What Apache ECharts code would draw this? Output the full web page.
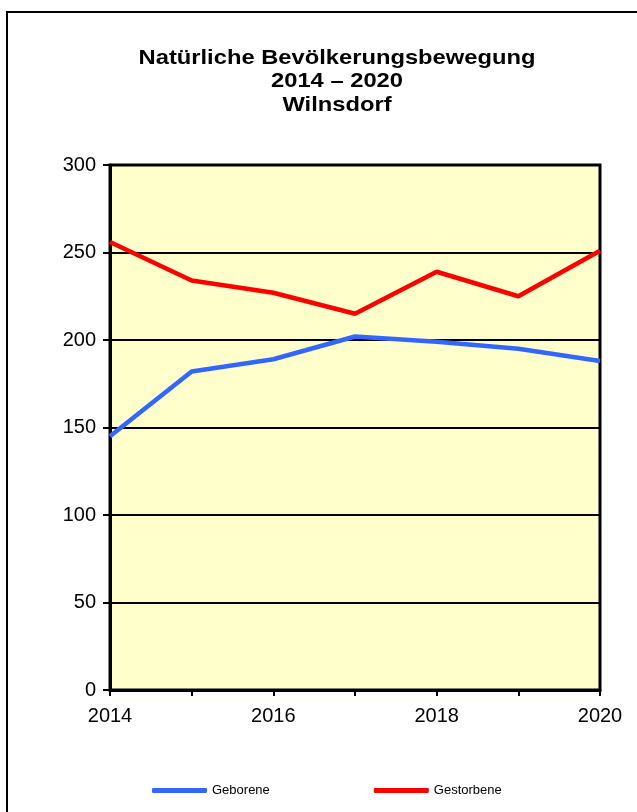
<!DOCTYPE html>
<html>
<head>
<meta charset="utf-8">
<script src="https://cdn.jsdelivr.net/npm/echarts@6/dist/echarts.min.js"></script>
<style>
  html, body { margin: 0; padding: 0; background: #fff; }
  #chart { width: 637px; height: 812px; }
</style>
</head>
<body>
<div id="chart"></div>
<script>
// Jahre (Kategorien)
const years = ["2014", "2015", "2016", "2017", "2018", "2019", "2020"];
// Geborene
const geborene = [145, 182, 189, 202, 199, 195, 188];
// Gestorbene
const gestorbene = [256, 234, 227, 215, 239, 225, 251];
// Titelzeilen
const titleLines = ["Natürliche Bevölkerungsbewegung", "2014 – 2020", "Wilnsdorf"];

const font = "Liberation Sans, Arial, sans-serif";

const chart = echarts.init(document.getElementById("chart"));

chart.setOption({
  animation: false,
  textStyle: { fontFamily: font },
  graphic: [
    // äußerer Rahmen
    {
      type: "rect",
      shape: { x: 7, y: 12, width: 700, height: 900 },
      style: { fill: "none", stroke: "#000", lineWidth: 2 },
      silent: true,
      z: -1,
    },
    // Titel (leicht in die Breite gezogen wie im Original)
    {
      type: "text",
      x: 337,
      y: 46,
      scaleX: 1.13,
      silent: true,
      style: {
        text: titleLines.join("\n"),
        font: "bold 21px " + font,
        fill: "#000",
        align: "center",
        verticalAlign: "top",
        lineHeight: 23.5,
      },
    },
  ],
  grid: {
    left: 110,
    right: 37,
    top: 165,
    bottom: 122,
    show: true,
    backgroundColor: "#FFFFCC",
    borderColor: "#000",
    borderWidth: 3,
  },
  legend: {
    left: 152,
    top: 784,
    padding: 0,
    itemWidth: 55,
    itemHeight: 5,
    itemGap: 104,
    icon: "roundRect",
    textStyle: { fontFamily: font, fontSize: 13, color: "#000" },
    data: ["Geborene", "Gestorbene"],
  },
  xAxis: {
    type: "category",
    data: years,
    boundaryGap: false,
    axisLine: { lineStyle: { color: "#000", width: 3 } },
    axisTick: {
      show: true,
      interval: 0,
      length: 6,
      lineStyle: { color: "#000", width: 2 },
    },
    axisLabel: {
      interval: 1,
      margin: 16,
      fontSize: 20,
      color: "#000",
      fontFamily: font,
    },
    splitLine: { show: false },
  },
  yAxis: {
    type: "value",
    min: 0,
    max: 300,
    interval: 50,
    axisLine: { show: true, lineStyle: { color: "#000", width: 3 } },
    axisTick: {
      show: true,
      length: 7,
      lineStyle: { color: "#000", width: 2 },
    },
    axisLabel: {
      margin: 14,
      fontSize: 20,
      color: "#000",
      fontFamily: font,
    },
    splitLine: { show: true, lineStyle: { color: "#000", width: 2 } },
  },
  series: [
    {
      name: "Geborene",
      type: "line",
      data: geborene,
      symbol: "none",
      lineStyle: { color: "#3366FF", width: 4.5 },
      itemStyle: { color: "#3366FF" },
      z: 3,
    },
    {
      name: "Gestorbene",
      type: "line",
      data: gestorbene,
      symbol: "none",
      lineStyle: { color: "#FF0000", width: 4.5 },
      itemStyle: { color: "#FF0000" },
      z: 3,
    },
  ],
});
</script>
</body>
</html>
